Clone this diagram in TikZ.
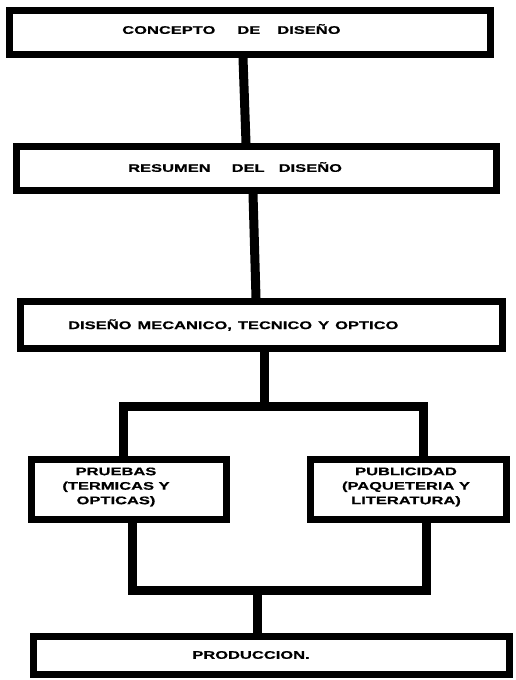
\documentclass[tikz,border=0pt]{standalone}
\usepackage{fontspec}
\newfontfamily\diagfont{Liberation Sans}[FakeStretch=1.5,FakeBold=0.6]
\begin{document}
\begin{tikzpicture}[x=1pt,y=-1pt,
  box/.style={draw=black,line width=7pt,fill=white,inner sep=0pt,rectangle,line join=miter},
  wire/.style={draw=black,line width=9pt,line join=miter},
  lbl/.style={font=\diagfont\bfseries\fontsize{11}{14.5}\selectfont,inner sep=0pt,text=black}]
\useasboundingbox (0,0) rectangle (515,680);
% boxes
\node[box,minimum width=481pt,minimum height=44pt] (b1) at (250,32.5) {};
\node[box,minimum width=480pt,minimum height=44pt] (b2) at (256.5,168.5) {};
\node[box,minimum width=482pt,minimum height=47pt] (b3) at (261.5,325) {};
\node[box,minimum width=195pt,minimum height=60pt] (b4) at (129,489.5) {};
\node[box,minimum width=196pt,minimum height=60pt] (b5) at (408.5,489.5) {};
\node[box,minimum width=476pt,minimum height=38pt] (b6) at (271.5,655.5) {};
% texts
\node[lbl,anchor=west] (t1) at (122,29) {CONCEPTO\hspace{22pt}DE\hspace{17pt}DISEÑO};
\node[lbl,anchor=west] (t2) at (128,167) {RESUMEN\hspace{21pt}DEL\hspace{14pt}DISEÑO};
\node[lbl,anchor=west] (t3) at (68,325) {DISEÑO\hspace{6pt}MECANICO,\hspace{6pt}TECNICO\hspace{6pt}Y\hspace{6pt}OPTICO};
\node[lbl,align=center] (t4) at (116,487) {PRUEBAS\\(TERMICAS Y\\OPTICAS)};
\node[lbl,align=center] (t5) at (406,487) {PUBLICIDAD\\(PAQUETERIA Y\\LITERATURA)};
\node[lbl] (t6) at (251,655) {PRODUCCION.};
% junctions
\coordinate (j1) at (264,406);
\coordinate (j2) at (257,590);
% connectors
\draw[wire] ([xshift=-7pt]b1.south) -- ([xshift=-10.5pt]b2.north);
\draw[wire] ([xshift=-3.5pt]b2.south) -- ([xshift=-5.5pt]b3.north);
\draw[wire] ([xshift=2.5pt]b3.south) -- (j1);
\draw[wire] ([xshift=-6pt]b4.north) |- (j1) -| ([xshift=14.5pt]b5.north);
\draw[wire] ([xshift=3pt]b4.south) |- (j2) -| ([xshift=17.5pt]b5.south);
\draw[wire] (j2) -- ([xshift=-14.5pt]b6.north);
\end{tikzpicture}
\end{document}
